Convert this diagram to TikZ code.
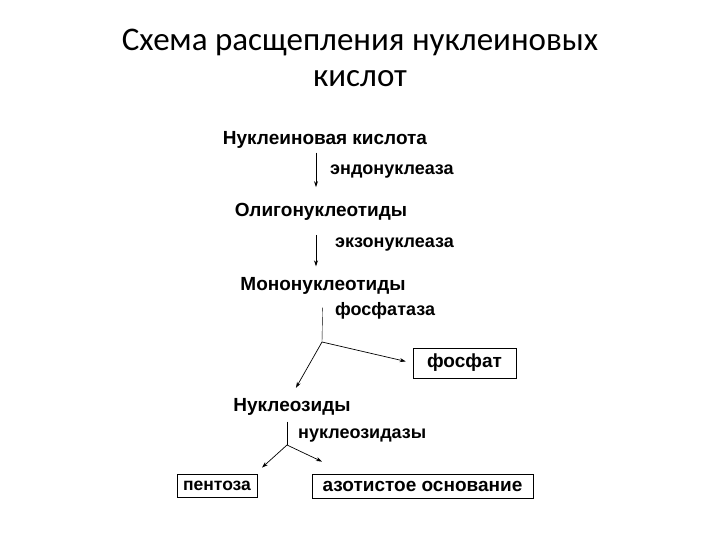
\documentclass[tikz,border=0pt]{standalone}
\usepackage{fontspec}
\setmainfont{Carlito}
\newfontfamily\arialf{Liberation Sans}
\usetikzlibrary{arrows.meta}

\begin{document}
\begin{tikzpicture}[x=1pt, y=-1pt,
        t/.style={font=\arialf\bfseries\fontsize{19}{21}\selectfont, inner sep=0pt},
        lb/.style={t, font=\arialf\bfseries\fontsize{18}{20}\selectfont},
        bx/.style={t, draw, line width=.8pt},
        arr/.style={-{Stealth[length=6pt, width=4pt]}, line width=.7pt}]

      \useasboundingbox (0,0) rectangle (720,540);

      % title
      \node[font=\fontsize{33}{36}\selectfont, align=center] (title) at (360,58)
        {Схема расщепления нуклеиновых\\кислот};

      % chain
      \node[t] (nk) at (325,140) {Нуклеиновая кислота};
      \node[lb, anchor=west] (endo) at (330,172) {эндонуклеаза};
      \node[t] (olig) at (321,212) {Олигонуклеотиды};
      \node[lb, anchor=west] (exo) at (335,245) {экзонуклеаза};
      \node[t] (mono) at (323,286) {Мононуклеотиды};
      \draw[arr] ([xshift=-14pt, yshift=-4pt]endo.west |- nk.south)
        -- ([xshift=-14pt, yshift=16pt]endo.west |- olig.north);
      \draw[arr] ([xshift=-19pt, yshift=-14pt]exo.west |- olig.south)
        -- ([xshift=-19pt, yshift=11pt]exo.west |- mono.north);

      % phosphatase
      \coordinate (b1) at (322,342);
      \node[lb, anchor=west] (fosf) at (335,311) {фосфатаза};
      \node[bx, minimum width=103, minimum height=30] (fosfat) at (464.5,363) {фосфат};
      \node[t] (nukl) at (292,407) {Нуклеозиды};
      \draw[shorten <=13pt] (mono) -- (b1);
      \draw[arr, shorten >=7pt] (b1) -- (fosfat.west);
      \draw[arr, shorten >=12pt] (b1) -- (nukl.north -| 290,0);

      % nucleosidases
      \coordinate (b2) at (287,445);
      \node[lb, anchor=west] (nuzd) at (298,436) {нуклеозидазы};
      \node[bx, font=\arialf\bfseries\fontsize{17.5}{20}\selectfont,
        minimum width=80, minimum height=23] (pent) at (217,485.5) {пентоза};
      \node[bx, minimum width=221, minimum height=24] (azot) at (422.5,486) {азотистое основание};
      \draw[shorten <=6pt] (nukl.south -| b2) -- (b2);
      \draw[arr] (b2) -- ([xshift=-25pt, yshift=6pt]pent.north -| b2);
      \draw[arr] (b2) -- ([xshift=35pt, yshift=12pt]azot.north -| b2);
    \end{tikzpicture}
\end{document}
